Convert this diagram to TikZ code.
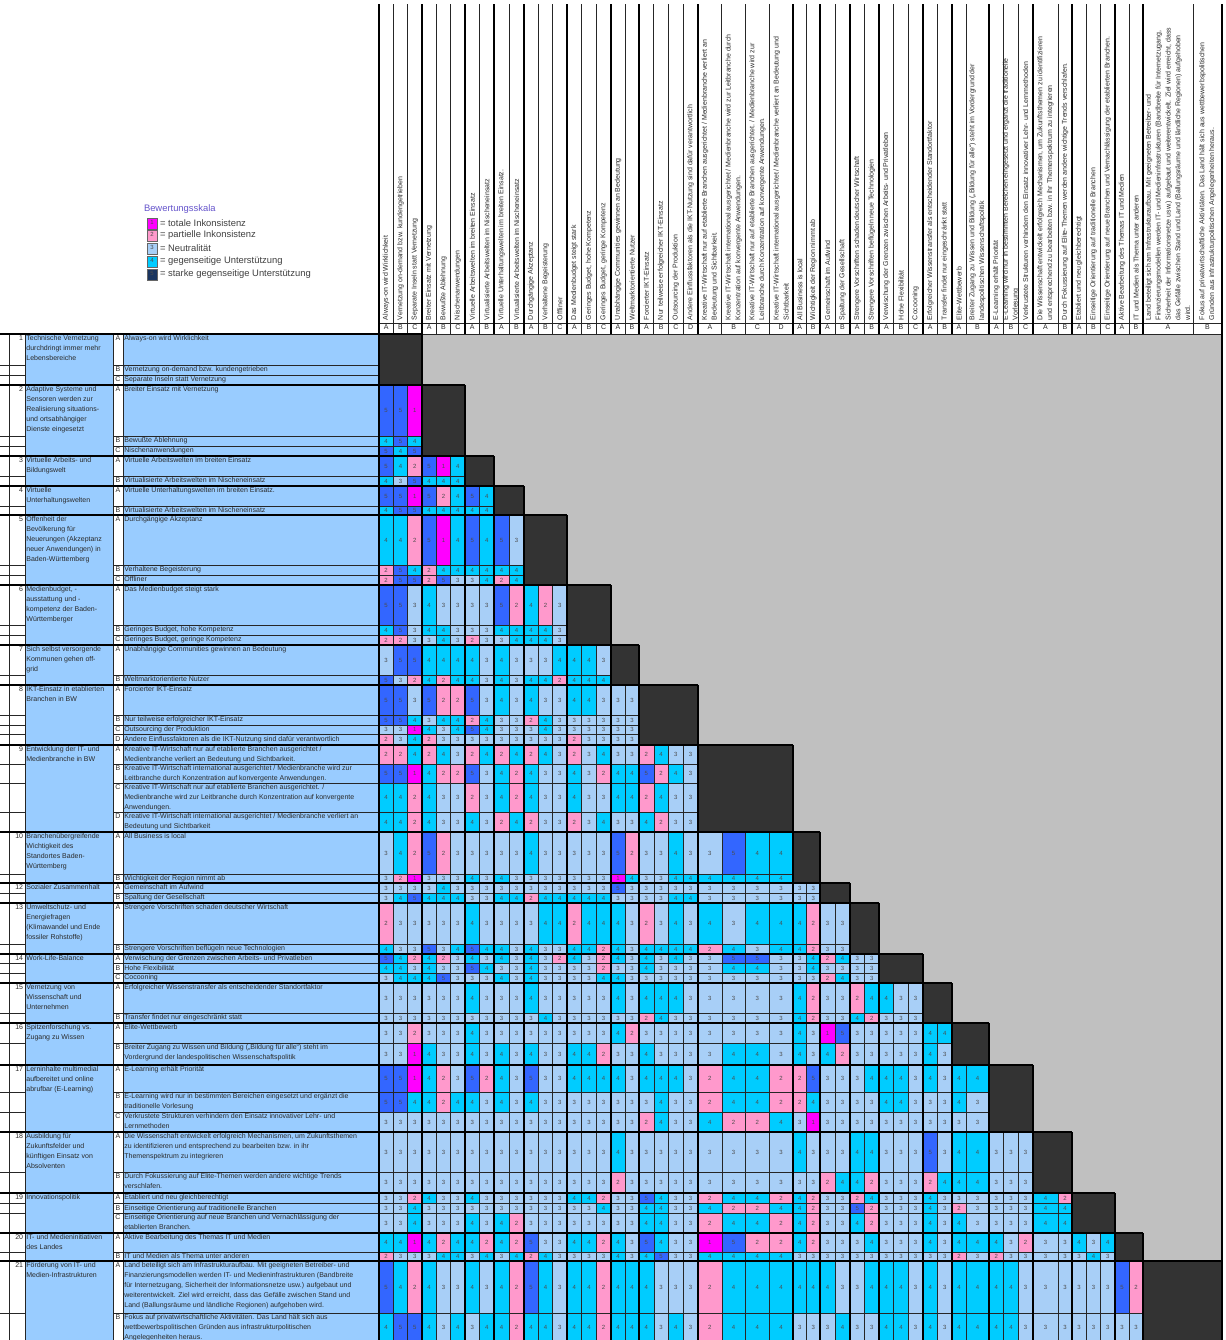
\documentclass[tikz,border=0pt]{standalone}
\usepackage{fontspec}
\setmainfont{Liberation Sans}
\definecolor{c1}{HTML}{FF00FF}
\definecolor{c2}{HTML}{FF99CC}
\definecolor{c3}{HTML}{A8CFF7}
\definecolor{c4}{HTML}{00CCFF}
\definecolor{c5}{HTML}{3366FF}
\definecolor{labelblue}{HTML}{99CCFF}
\definecolor{blockdark}{HTML}{333333}
\definecolor{voidgray}{HTML}{C0C0C0}
\definecolor{legendnavy}{HTML}{1A3560}
\definecolor{scaletitle}{HTML}{6655CC}
\definecolor{ink}{HTML}{2A2A2A}
% column edges (left to right) and row edges (top to bottom)
\def\CX{{379,393.3,407.7,422,436.3,450.7,465,479.5,494,509,524,538.3,552.7,567,581.7,596.3,611,625,639,653.75,668.5,683.25,698,721.75,745.5,769.25,793,806.5,820,835,850,864.5,879,893.7,908.3,923,937.5,952,966,989,1003.7,1018.3,1033,1058,1072,1086.3,1100.7,1115,1129,1143,1193,1222}}
\def\RY{{334,365,375,385,436,446,456,476,486,506,515,565,575,585,625,635,645,675,685,715,725,734.5,745,764,783,812,832,874,883,893,903,944,954,963.5,973,983,1013,1023,1043,1065,1092,1112,1132,1172,1193,1203.5,1213,1233,1252,1261,1313,1342}}
\begin{document}
\begin{tikzpicture}[x=0.5pt,y=-0.5pt,
  every node/.style={inner sep=0pt, outer sep=0pt, text=ink},
  lbl/.style={font=\fontsize{3.5}{4.9}\selectfont, align=left, anchor=north west, inner xsep=0.7pt, inner ysep=0.9pt},
  hdr/.style={font=\fontsize{3.5}{4.9}\selectfont, align=left, rotate=90, anchor=west},
  num/.style={font=\fontsize{3}{3}\selectfont, text=black!70},
  lettr/.style={font=\fontsize{3.5}{4}\selectfont, anchor=north, inner ysep=0.9pt},
  cellbox/.style={draw=black!85, line width=0.25pt},
  thinrule/.style={draw=black!85, line width=0.3pt},
  thickrule/.style={draw=black, line width=0.75pt},
  legtext/.style={font=\fontsize{4.7}{5}\selectfont, anchor=west, text=black!75},
  legbox/.style={draw=black!60, line width=0.25pt},
]
\useasboundingbox (0,0) rectangle (1226,1340);
\fill[white] (0,0) rectangle (1226,1340);

% ---------- legend ----------
\node[font=\fontsize{4.7}{5}\selectfont, anchor=west, text=scaletitle] (legtitle) at (144,209) {Bewertungsskala};
\foreach \k/\ya/\col/\txt in {1/218/c1/{= totale Inkonsistenz},2/230/c2/{= partielle Inkonsistenz},3/243/c3/{= Neutralität},4/256/c4/{= gegenseitige Unterstützung},5/269/legendnavy/{= starke gegenseitige Unterstützung}}{
  \filldraw[legbox, fill=\col] (147,\ya) rectangle (157,\ya+11);
  \node[num] (legnum-\k) at (152,\ya+4.5) {\k};
  \node[legtext] (leg-\k) at (160,\ya+5) {\txt};
}

% ---------- label panel backgrounds ----------
\fill[labelblue] (25,334) rectangle (113,1342);
\fill[labelblue] (123,334) rectangle (379,1342);

% ---------- matrix background ----------
\fill[voidgray] (379,334) rectangle (1222,1342);

% ---------- rated cells ----------
\foreach \r/\vals in {3/{5,5,1},
4/{4,5,4},
5/{5,4,5},
6/{5,4,2,5,1,4},
7/{4,3,5,4,4,4},
8/{5,5,1,5,2,4,5,4},
9/{4,5,5,4,4,4,4,4},
10/{4,4,2,5,1,4,5,4,5,3},
11/{2,5,4,2,4,4,4,4,4,4},
12/{2,5,5,2,5,3,3,4,2,4},
13/{5,5,3,4,3,3,3,3,5,2,4,2,3},
14/{4,5,3,4,4,3,3,3,4,4,4,4,3},
15/{2,2,3,3,4,3,2,3,3,4,4,4,3},
16/{3,5,5,4,4,4,4,3,4,3,3,3,4,4,4,3},
17/{5,3,2,4,2,4,4,3,4,3,4,4,2,4,4,4},
18/{5,5,3,5,2,2,5,3,4,3,4,3,3,4,4,3,3,3},
19/{5,5,4,3,4,4,2,4,3,3,2,4,3,3,3,3,3,3},
20/{3,3,1,4,3,4,5,4,3,3,3,4,3,3,3,3,3,3},
21/{2,3,4,2,3,3,3,3,3,3,3,3,3,2,3,3,3,3},
22/{2,2,4,2,4,3,2,4,2,4,2,4,3,2,3,4,3,3,2,4,3,3},
23/{5,5,1,4,2,2,5,3,4,2,4,3,3,4,3,2,4,4,5,2,4,3},
24/{4,4,2,4,3,3,2,3,4,2,4,3,3,4,3,3,4,4,2,4,3,3},
25/{4,4,2,4,3,3,4,3,2,4,2,3,3,2,3,4,3,3,4,2,3,3},
26/{3,4,2,5,2,3,3,3,3,3,4,3,3,3,3,3,5,2,3,3,4,3,3,5,4,4},
27/{3,2,1,3,3,3,4,3,4,3,3,3,3,3,3,3,1,4,3,3,4,4,4,4,4,4},
28/{3,3,3,3,4,3,3,3,3,3,3,3,3,3,3,3,5,3,3,3,3,3,3,3,3,3,3,3},
29/{3,4,5,4,4,4,3,3,4,4,2,4,4,4,4,4,3,3,3,3,4,4,3,3,3,3,3,3},
30/{2,3,3,3,3,3,4,3,3,3,3,4,4,2,4,4,4,3,2,3,4,3,4,3,4,4,4,2,3,3},
31/{4,3,3,5,3,4,5,4,4,3,4,3,3,4,4,2,4,3,4,4,4,4,2,4,3,4,4,2,3,3},
32/{5,4,2,4,2,3,4,3,4,3,4,3,2,4,3,2,4,3,4,3,4,3,3,5,5,3,3,4,2,4,3,3},
33/{4,4,3,4,3,3,5,4,3,3,4,3,3,3,3,2,3,3,4,3,3,3,3,4,4,3,3,4,3,3,3,3},
34/{3,4,4,4,5,3,3,3,4,3,4,3,3,3,3,4,4,3,3,3,3,3,3,3,3,3,3,3,2,4,3,3},
35/{3,3,3,3,3,3,4,3,3,3,4,3,3,3,3,3,4,3,4,4,4,3,3,3,3,3,4,2,3,3,2,4,4,3,3},
36/{3,3,3,3,3,3,3,3,3,3,3,4,3,3,3,3,3,3,2,4,3,3,3,3,3,3,4,2,3,3,4,2,3,3,3},
37/{3,3,2,3,3,3,4,3,3,3,3,3,3,3,3,3,4,2,3,3,3,3,3,3,3,3,4,3,1,5,3,3,3,3,3,4,4},
38/{3,3,1,4,3,3,4,3,4,3,4,3,3,4,4,2,3,3,4,3,3,3,3,4,4,3,4,3,4,2,3,3,3,3,3,4,3},
39/{5,5,1,4,2,3,5,2,4,3,5,3,3,4,4,4,4,3,4,4,4,3,2,4,4,2,2,5,3,3,3,4,4,4,3,4,3,4,4},
40/{5,5,4,4,2,4,4,3,4,3,4,3,3,3,3,3,3,3,3,4,3,3,2,4,4,2,2,4,3,3,3,3,4,4,3,3,3,4,3},
41/{3,3,3,3,3,3,3,3,3,3,3,3,3,3,3,3,3,3,2,4,3,3,4,2,2,4,3,1,3,3,3,3,3,3,3,3,3,3,3},
42/{3,3,3,3,3,3,3,3,3,3,3,3,3,3,3,3,4,3,3,3,3,3,3,3,3,3,4,3,3,3,4,4,3,3,3,5,3,4,4,3,3,3},
43/{3,3,3,3,3,3,3,3,3,3,3,3,3,3,3,3,2,3,3,3,3,3,3,3,3,3,3,3,2,4,4,2,3,3,3,2,4,4,4,3,3,3},
44/{3,3,2,4,3,3,4,3,3,3,3,3,3,4,4,2,3,3,5,4,3,3,2,4,4,2,4,2,3,3,2,4,3,3,3,4,3,3,3,3,3,3,4,2},
45/{3,3,4,3,3,3,3,3,3,3,3,3,3,3,3,4,3,3,4,4,3,3,4,2,2,4,4,2,3,3,5,2,3,3,3,4,3,2,3,3,3,3,4,4},
46/{3,3,4,3,3,3,4,3,4,2,3,3,3,3,3,3,3,3,4,4,3,3,2,4,4,2,4,2,3,3,4,2,3,3,3,4,3,4,3,3,3,3,4,4},
47/{4,4,1,4,2,4,4,2,4,2,5,3,3,4,4,2,4,3,5,4,3,3,1,5,2,2,4,2,3,3,3,4,3,3,3,4,3,4,4,4,3,2,3,3,4,3,4},
48/{2,3,3,3,4,4,3,4,3,4,2,4,3,3,3,3,4,3,4,5,3,3,4,4,4,4,3,3,3,3,3,3,3,3,3,3,3,2,3,2,3,3,3,3,3,4,3},
49/{5,4,2,4,3,3,4,3,4,2,5,4,3,4,4,2,4,4,4,3,3,3,2,4,4,4,4,4,4,3,3,4,4,4,3,4,3,4,4,4,4,3,3,3,3,3,3,5,2},
50/{4,5,5,4,3,4,3,4,4,2,4,4,3,4,4,2,4,4,4,3,4,3,2,4,4,4,3,3,3,4,3,3,4,4,3,4,3,4,4,4,4,3,3,3,3,3,3,3,3}}{
  \pgfmathsetmacro\ya{\RY[\r]}
  \pgfmathsetmacro\yb{\RY[\r+1]}
  \foreach \v [count=\cc from 0] in \vals {
    \pgfmathsetmacro\xa{\CX[\cc]}
    \pgfmathsetmacro\xb{\CX[\cc+1]}
    \filldraw[cellbox, fill=c\v] (\xa,\ya) rectangle (\xb,\yb);
    \node[num] (v-\r-\cc) at ({(\xa+\xb)/2},{(\ya+\yb)/2}) {\v};
  }
}

% ---------- diagonal blocks ----------
\foreach \s/\e in {0/3,3/6,6/8,8/10,10/13,13/16,16/18,18/22,22/26,26/28,28/30,30/32,32/35,35/37,37/39,39/42,42/44,44/47,47/49,49/51}{
  \pgfmathsetmacro\xa{\CX[\s]}\pgfmathsetmacro\xb{\CX[\e]}
  \pgfmathsetmacro\ya{\RY[\s]}\pgfmathsetmacro\yb{\RY[\e]}
  \fill[blockdark] (\xa,\ya) rectangle (\xb,\yb);
}

% ---------- header: column rules, letters, rotated texts ----------
\foreach \cc in {0,...,51}{
  \pgfmathsetmacro\xa{\CX[\cc]}
  \draw[thinrule] (\xa,4) -- (\xa,334);
}
\draw[thinrule] (379,323) -- (1222,323);
\draw[thinrule] (379,334) -- (1222,334);
\foreach \cc/\lt in {0/A,1/B,2/C,3/A,4/B,5/C,6/A,7/B,8/A,9/B,10/A,11/B,12/C,13/A,14/B,15/C,16/A,17/B,18/A,19/B,20/C,21/D,22/A,23/B,24/C,25/D,26/A,27/B,28/A,29/B,30/A,31/B,32/A,33/B,34/C,35/A,36/B,37/A,38/B,39/A,40/B,41/C,42/A,43/B,44/A,45/B,46/C,47/A,48/B,49/A,50/B}{
  \pgfmathsetmacro\xa{\CX[\cc]}
  \pgfmathsetmacro\xb{\CX[\cc+1]}
  \node[lettr] (hl-\cc) at ({(\xa+\xb)/2},323) {\lt};
}
\foreach \cc/\txt in {0/{Always-on wird Wirklichkeit},
1/{Vernetzung on-demand bzw. kundengetrieben},
2/{Separate Inseln statt Vernetzung},
3/{Breiter Einsatz mit Vernetzung},
4/{Bewußte Ablehnung},
5/{Nischenanwendungen},
6/{Virtuelle Arbeitswelten im breiten Einsatz},
7/{Virtualisierte Arbeitswelten im Nischeneinsatz},
8/{Virtuelle Unterhaltungswelten im breiten Einsatz.},
9/{Virtualisierte Arbeitswelten im Nischeneinsatz},
10/{Durchgängige Akzeptanz},
11/{Verhaltene Begeisterung},
12/{Offliner},
13/{Das Medienbudget steigt stark},
14/{Geringes Budget, hohe Kompetenz},
15/{Geringes Budget, geringe Kompetenz},
16/{Unabhängige Communities gewinnen an Bedeutung},
17/{Weltmarktorientierte Nutzer},
18/{Forcierter IKT-Einsatz},
19/{Nur teilweise erfolgreicher IKT-Einsatz},
20/{Outsourcing der Produktion},
21/{Andere Einflussfaktoren als die IKT-Nutzung sind dafür verantwortlich},
22/{Kreative IT-Wirtschaft nur auf etablierte Branchen ausgerichtet / Medienbranche verliert an\\Bedeutung und Sichtbarkeit.},
23/{Kreative IT-Wirtschaft international ausgerichtet / Medienbranche wird zur Leitbranche durch\\Konzentration auf konvergente Anwendungen.},
24/{Kreative IT-Wirtschaft nur auf etablierte Branchen ausgerichtet. / Medienbranche wird zur\\Leitbranche durch Konzentration auf konvergente Anwendungen.},
25/{Kreative IT-Wirtschaft international ausgerichtet / Medienbranche verliert an Bedeutung und\\Sichtbarkeit},
26/{All Business is local},
27/{Wichtigkeit der Region nimmt ab},
28/{Gemeinschaft im Aufwind},
29/{Spaltung der Gesellschaft},
30/{Strengere Vorschriften schaden deutscher Wirtschaft},
31/{Strengere Vorschriften beflügeln neue Technologien},
32/{Verwischung der Grenzen zwischen Arbeits- und Privatleben},
33/{Hohe Flexibilität},
34/{Cocooning},
35/{Erfolgreicher Wissenstransfer als entscheidender Standortfaktor},
36/{Transfer findet nur eingeschränkt statt},
37/{Elite-Wettbewerb},
38/{Breiter Zugang zu Wissen und Bildung („Bildung für alle“) steht im Vordergrund der\\landespolitischen Wissenschaftspolitik},
39/{E-Learning erhält Priorität},
40/{E-Learning wird nur in bestimmten Bereichen eingesetzt und ergänzt die traditionelle\\Vorlesung},
41/{Verkrustete Strukturen verhindern den Einsatz innovativer Lehr- und Lernmethoden},
42/{Die Wissenschaft entwickelt erfolgreich Mechanismen, um Zukunftsthemen zu identifizieren\\und entsprechend zu bearbeiten bzw. in ihr Themenspektrum zu integrieren},
43/{Durch Fokussierung auf Elite-Themen werden andere wichtige Trends verschlafen.},
44/{Etabliert und neu gleichberechtigt},
45/{Einseitige Orientierung auf traditionelle Branchen},
46/{Einseitige Orientierung auf neue Branchen und Vernachlässigung der etablierten Branchen.},
47/{Aktive Bearbeitung des Themas IT und Medien},
48/{IT und Medien als Thema unter anderen},
49/{Land beteiligt sich am Infrastrukturaufbau. Mit geeigneten Betreiber- und\\Finanzierungsmodellen werden IT- und Medieninfrastrukturen (Bandbreite für Internetzugang,\\Sicherheit der Informationsnetze usw.) aufgebaut und weiterentwickelt. Ziel wird erreicht, dass\\das Gefälle zwischen Stand und Land (Ballungsräume und ländliche Regionen) aufgehoben\\wird.},
50/{Fokus auf privatwirtschaftliche Aktivitäten. Das Land hält sich aus wettbewerbspolitischen\\Gründen aus infrastrukturpolitischen Angelegenheiten heraus.}}{
  \pgfmathsetmacro\xa{\CX[\cc]}
  \pgfmathsetmacro\xb{\CX[\cc+1]}
  \node[hdr] (ht-\cc) at ({(\xa+\xb)/2},320) {\txt};
}

% ---------- row labels ----------
\foreach \r/\lt/\txt in {0/A/{Always-on wird Wirklichkeit},
1/B/{Vernetzung on-demand bzw. kundengetrieben},
2/C/{Separate Inseln statt Vernetzung},
3/A/{Breiter Einsatz mit Vernetzung},
4/B/{Bewußte Ablehnung},
5/C/{Nischenanwendungen},
6/A/{Virtuelle Arbeitswelten im breiten Einsatz},
7/B/{Virtualisierte Arbeitswelten im Nischeneinsatz},
8/A/{Virtuelle Unterhaltungswelten im breiten Einsatz.},
9/B/{Virtualisierte Arbeitswelten im Nischeneinsatz},
10/A/{Durchgängige Akzeptanz},
11/B/{Verhaltene Begeisterung},
12/C/{Offliner},
13/A/{Das Medienbudget steigt stark},
14/B/{Geringes Budget, hohe Kompetenz},
15/C/{Geringes Budget, geringe Kompetenz},
16/A/{Unabhängige Communities gewinnen an Bedeutung},
17/B/{Weltmarktorientierte Nutzer},
18/A/{Forcierter IKT-Einsatz},
19/B/{Nur teilweise erfolgreicher IKT-Einsatz},
20/C/{Outsourcing der Produktion},
21/D/{Andere Einflussfaktoren als die IKT-Nutzung sind dafür verantwortlich},
22/A/{Kreative IT-Wirtschaft nur auf etablierte Branchen ausgerichtet /\\Medienbranche verliert an Bedeutung und Sichtbarkeit.},
23/B/{Kreative IT-Wirtschaft international ausgerichtet / Medienbranche wird zur\\Leitbranche durch Konzentration auf konvergente Anwendungen.},
24/C/{Kreative IT-Wirtschaft nur auf etablierte Branchen ausgerichtet. /\\Medienbranche wird zur Leitbranche durch Konzentration auf konvergente\\Anwendungen.},
25/D/{Kreative IT-Wirtschaft international ausgerichtet / Medienbranche verliert an\\Bedeutung und Sichtbarkeit},
26/A/{All Business is local},
27/B/{Wichtigkeit der Region nimmt ab},
28/A/{Gemeinschaft im Aufwind},
29/B/{Spaltung der Gesellschaft},
30/A/{Strengere Vorschriften schaden deutscher Wirtschaft},
31/B/{Strengere Vorschriften beflügeln neue Technologien},
32/A/{Verwischung der Grenzen zwischen Arbeits- und Privatleben},
33/B/{Hohe Flexibilität},
34/C/{Cocooning},
35/A/{Erfolgreicher Wissenstransfer als entscheidender Standortfaktor},
36/B/{Transfer findet nur eingeschränkt statt},
37/A/{Elite-Wettbewerb},
38/B/{Breiter Zugang zu Wissen und Bildung („Bildung für alle“) steht im\\Vordergrund der landespolitischen Wissenschaftspolitik},
39/A/{E-Learning erhält Priorität},
40/B/{E-Learning wird nur in bestimmten Bereichen eingesetzt und ergänzt die\\traditionelle Vorlesung},
41/C/{Verkrustete Strukturen verhindern den Einsatz innovativer Lehr- und\\Lernmethoden},
42/A/{Die Wissenschaft entwickelt erfolgreich Mechanismen, um Zukunftsthemen\\zu identifizieren und entsprechend zu bearbeiten bzw. in ihr\\Themenspektrum zu integrieren},
43/B/{Durch Fokussierung auf Elite-Themen werden andere wichtige Trends\\verschlafen.},
44/A/{Etabliert und neu gleichberechtigt},
45/B/{Einseitige Orientierung auf traditionelle Branchen},
46/C/{Einseitige Orientierung auf neue Branchen und Vernachlässigung der\\etablierten Branchen.},
47/A/{Aktive Bearbeitung des Themas IT und Medien},
48/B/{IT und Medien als Thema unter anderen},
49/A/{Land beteiligt sich am Infrastrukturaufbau. Mit geeigneten Betreiber- und\\Finanzierungsmodellen werden IT- und Medieninfrastrukturen (Bandbreite\\für Internetzugang, Sicherheit der Informationsnetze usw.) aufgebaut und\\weiterentwickelt. Ziel wird erreicht, dass das Gefälle zwischen Stand und\\Land (Ballungsräume und ländliche Regionen) aufgehoben wird.},
50/B/{Fokus auf privatwirtschaftliche Aktivitäten. Das Land hält sich aus\\wettbewerbspolitischen Gründen aus infrastrukturpolitischen\\Angelegenheiten heraus.}}{
  \pgfmathsetmacro\ya{\RY[\r]}
  \draw[thinrule] (0,\ya) -- (25,\ya);
  \draw[thinrule] (113,\ya) -- (379,\ya);
  \node[lettr] (rl-\r) at (118,\ya) {\lt};
  \node[lbl] (rt-\r) at (123,\ya) {\txt};
}

% ---------- factor labels ----------
\foreach \s/\nr/\txt in {0/1/{Technische Vernetzung\\durchdringt immer mehr\\Lebensbereiche},
3/2/{Adaptive Systeme und\\Sensoren werden zur\\Realisierung situations-\\und ortsabhängiger\\Dienste eingesetzt},
6/3/{Virtuelle Arbeits- und\\Bildungswelt},
8/4/{Virtuelle\\Unterhaltungswelten},
10/5/{Offenheit der\\Bevölkerung für\\Neuerungen (Akzeptanz\\neuer Anwendungen) in\\Baden-Württemberg},
13/6/{Medienbudget, -\\ausstattung und -\\kompetenz der Baden-\\Württemberger},
16/7/{Sich selbst versorgende\\Kommunen gehen off-\\grid},
18/8/{IKT-Einsatz in etablierten\\Branchen in BW},
22/9/{Entwicklung der IT- und\\Medienbranche in BW},
26/10/{Branchenübergreifende\\Wichtigkeit des\\Standortes Baden-\\Württemberg},
28/12/{Sozialer Zusammenhalt},
30/13/{Umweltschutz- und\\Energiefragen\\(Klimawandel und Ende\\fossiler Rohstoffe)},
32/14/{Work-Life-Balance},
35/15/{Vernetzung von\\Wissenschaft und\\Unternehmen},
37/16/{Spitzenforschung vs.\\Zugang zu Wissen},
39/17/{Lerninhalte multimedial\\aufbereitet und online\\abrufbar (E-Learning)},
42/18/{Ausbildung für\\Zukunftsfelder und\\künftigen Einsatz von\\Absolventen},
44/19/{Innovationspolitik},
47/20/{IT- und Medieninitiativen\\des Landes},
49/21/{Förderung von IT- und\\Medien-Infrastrukturen}}{
  \pgfmathsetmacro\ya{\RY[\s]}
  \node[lbl, anchor=north east] (fn-\nr) at (24.5,\ya) {\nr};
  \node[lbl] (ft-\nr) at (25,\ya) {\txt};
}

% ---------- vertical rules of the label panel ----------
\foreach \xv in {9,25,113,123}{
  \draw[thinrule] (\xv,334) -- (\xv,1342);
}
\draw[thickrule] (379,4) -- (379,1342);
\draw[thickrule] (1222,4) -- (1222,1342);

% ---------- factor boundaries ----------
\foreach \p/\s/\e in {0/0/3,0/3/6,3/6/8,6/8/10,8/10/13,10/13/16,13/16/18,16/18/22,18/22/26,22/26/28,26/28/30,28/30/32,30/32/35,32/35/37,35/37/39,37/39/42,39/42/44,42/44/47,44/47/49,47/49/51}{
  \pgfmathsetmacro\xs{\CX[\s]}\pgfmathsetmacro\xe{\CX[\e]}
  \pgfmathsetmacro\yp{\RY[\p]}\pgfmathsetmacro\ys{\RY[\s]}
  \draw[thickrule] (0,\ys) -- (\xe,\ys);
  \draw[thickrule] (\xs,\yp) -- (\xs,1342);
  \draw[thickrule] (\xs,4) -- (\xs,334);
}
\end{tikzpicture}
\end{document}
